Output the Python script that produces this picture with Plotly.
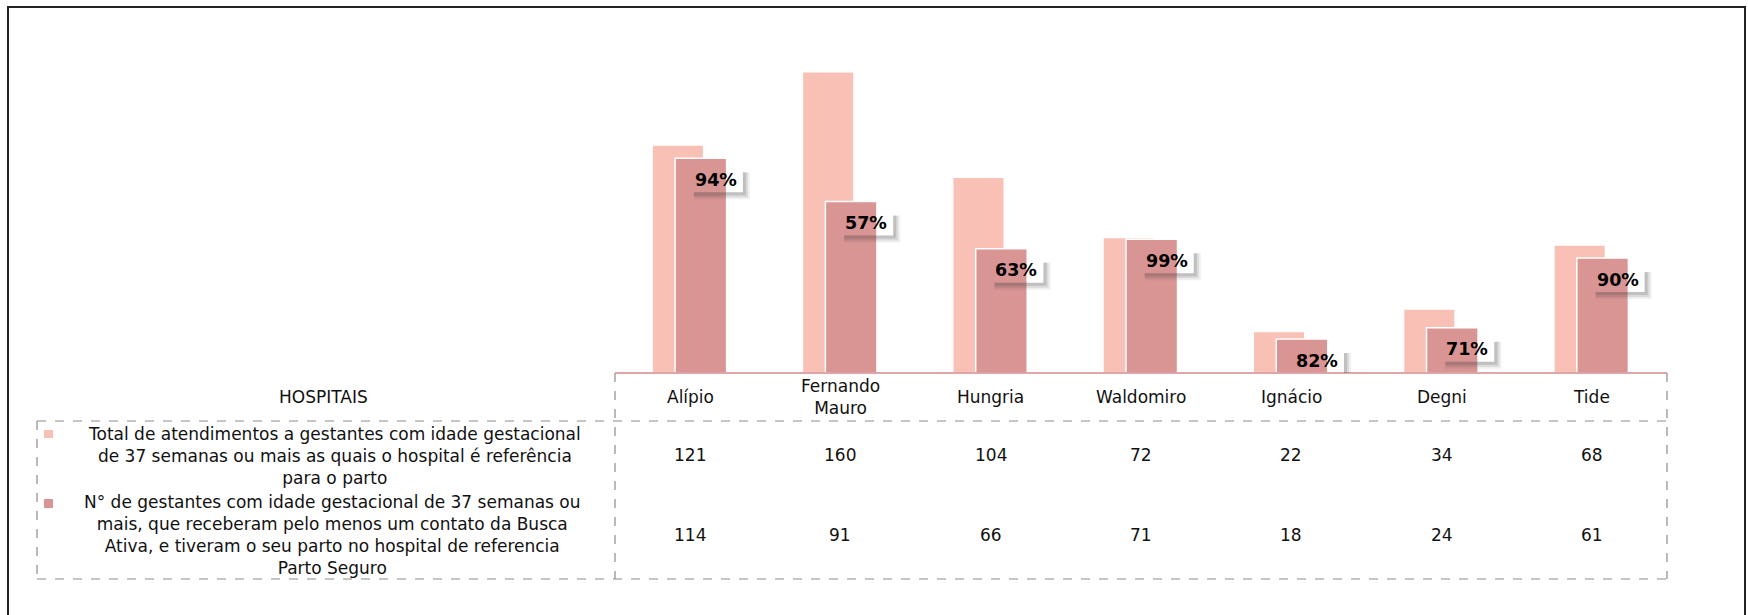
import plotly.graph_objects as go

# ---- data ----
hospitais = ["Alípio", "Fernando Mauro", "Hungria", "Waldomiro", "Ignácio", "Degni", "Tide"]
hospital_labels = ["Alípio", "Fernando<br>Mauro", "Hungria", "Waldomiro", "Ignácio", "Degni", "Tide"]
total_atendimentos = [121, 160, 104, 72, 22, 34, 68]
gestantes_busca = [114, 91, 66, 71, 18, 24, 61]
serie1_nome = ("Total de atendimentos a gestantes com idade gestacional<br>"
               "de 37 semanas ou mais as quais o hospital é referência<br>para o parto")
serie2_nome = ("N° de gestantes com idade gestacional de 37 semanas ou<br>"
               "mais, que receberam pelo menos um contato da Busca<br>"
               "Ativa, e tiveram o seu parto no hospital de referencia<br>Parto Seguro")
header_title = "HOSPITAIS"

# ---- style / layout (page pixel coordinates) ----
W, H = 1748, 615
PL, PR, PT, PB = 615, 1667, 34, 373          # plot area in pixels
YMAX = 180
LIGHT = "#F9C0B6"
DARK = "#D99494"
DASH = "#8c8c8c"
FONT = "DejaVu Sans"
FS = 17
BW = 0.343
OFF_L, OFF_D = -0.253, -0.100

PXX = (PR - PL) / len(hospitais)
PXY = (PB - PT) / YMAX


def px(xp):
    return (xp - PL) / (PR - PL)


def py(yp):
    return (PB - yp) / (PB - PT)


fig = go.Figure()
fig.add_trace(go.Bar(x=hospitais, y=total_atendimentos, name="total",
                     marker=dict(color=LIGHT, line=dict(color="white", width=1.5)),
                     offset=OFF_L, width=BW, hoverinfo="skip"))
fig.add_trace(go.Bar(x=hospitais, y=gestantes_busca, name="busca",
                     marker=dict(color=DARK, line=dict(color="white", width=1.5)),
                     offset=OFF_D, width=BW, hoverinfo="skip"))

shapes = []
annotations = []

# outer frame
shapes.append(dict(type="rect", xref="paper", yref="paper",
                   x0=px(8), x1=px(1745), y0=py(640), y1=py(7),
                   line=dict(color="#222", width=2), fillcolor="rgba(0,0,0,0)", layer="below"))


def dline(x0, y0, x1, y1):
    shapes.append(dict(type="line", xref="paper", yref="paper",
                       x0=px(x0), x1=px(x1), y0=py(y0), y1=py(y1),
                       line=dict(color=DASH, width=1.2, dash="dash")))


dline(PL, PB, PL, 579)
dline(PR, PB, PR, 579)
dline(37, 421, 37, 579)
dline(37, 421, PR, 421)
dline(37, 579, PR, 579)

# axis line (reddish)
shapes.append(dict(type="line", xref="paper", yref="paper", x0=0, x1=1, y0=0, y1=0,
                   line=dict(color="#d58a8a", width=1.5)))

# legend keys
shapes.append(dict(type="rect", xref="paper", yref="paper",
                   x0=px(44), x1=px(53), y0=py(438), y1=py(430),
                   fillcolor=LIGHT, line=dict(width=0)))
shapes.append(dict(type="rect", xref="paper", yref="paper",
                   x0=px(44), x1=px(53), y0=py(508), y1=py(499),
                   fillcolor=DARK, line=dict(width=0)))

txt = dict(family=FONT, size=FS, color="#111")

# legend texts
annotations.append(dict(xref="paper", yref="paper", x=px(334), y=py(456),
                        xanchor="center", yanchor="middle",
                        text=serie1_nome, showarrow=False, align="center", font=txt))
annotations.append(dict(xref="paper", yref="paper", x=px(332), y=py(535),
                        xanchor="center", yanchor="middle",
                        text=serie2_nome, showarrow=False, align="center", font=txt))
annotations.append(dict(xref="paper", yref="paper", x=px(323), y=py(397),
                        xanchor="center", yanchor="middle",
                        text=header_title, showarrow=False, font=txt))

# category headers and values
for i, h in enumerate(hospitais):
    for yy, t in [(397, hospital_labels[i]), (455, str(total_atendimentos[i])),
                  (535, str(gestantes_busca[i]))]:
        annotations.append(dict(xref="x", yref="paper", x=h, y=py(yy), text=t,
                                xanchor="center", yanchor="middle", align="center",
                                showarrow=False, font=txt))

# percentage labels with soft drop shadow
dark_center = OFF_D + BW / 2
for i, h in enumerate(hospitais):
    v = gestantes_busca[i]
    pct = round(v / total_atendimentos[i] * 100)
    cx = i + dark_center
    bx0 = cx - 12 / PXX
    bx1 = cx + 42 / PXX
    by0 = v - 9 / PXY
    by1 = v - 34 / PXY
    for k, a in [(7, 0.08), (5, 0.12), (3, 0.16)]:
        shapes.append(dict(type="rect", xref="x", yref="y",
                           x0=bx0 + 5 / PXX, x1=bx1 + k / PXX, y0=by1, y1=by1 - k / PXY,
                           fillcolor=f"rgba(60,60,60,{a})", line=dict(width=0), layer="above"))
        shapes.append(dict(type="rect", xref="x", yref="y",
                           x0=bx1, x1=bx1 + k / PXX, y0=by0 - 5 / PXY, y1=by1,
                           fillcolor=f"rgba(60,60,60,{a})", line=dict(width=0), layer="above"))
    annotations.append(dict(xref="x", yref="y", x=cx, y=v, text=f"<b>{pct}%</b>",
                            xshift=15, yshift=-21.5, xanchor="center", yanchor="middle",
                            showarrow=False, font=dict(family=FONT, size=17.5, color="#000")))

fig.update_layout(
    width=W, height=H,
    margin=dict(l=PL, r=W - PR, t=PT, b=H - PB, pad=0),
    barmode="overlay",
    showlegend=False,
    plot_bgcolor="white", paper_bgcolor="white",
    xaxis=dict(showticklabels=False, showgrid=False, zeroline=False, showline=False,
               ticks="", range=[-0.5, len(hospitais) - 0.5]),
    yaxis=dict(visible=False, range=[0, YMAX]),
    shapes=shapes, annotations=annotations,
)

fig.write_html("out.html", config={"displayModeBar": False},
               post_script="document.body.style.margin='0';document.body.style.overflow='hidden';")
